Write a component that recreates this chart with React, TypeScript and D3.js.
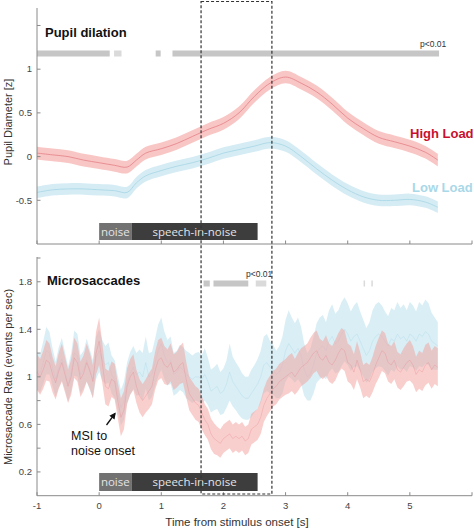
import React from "react";
import * as d3 from "d3";

// ---------- DATA ----------
const pupilTime = [-1, -0.75, -0.5, -0.25, 0, 0.25, 0.45, 0.6, 0.75, 1, 1.25, 1.5, 1.75, 2, 2.25, 2.5, 2.75, 3, 3.25, 3.5, 3.75, 4, 4.25, 4.5, 4.75, 5, 5.25, 5.45];
const pupilHigh = [0.04, 0.02, 0.0, -0.04, -0.07, -0.1, -0.12, -0.04, 0.04, 0.09, 0.15, 0.23, 0.31, 0.38, 0.5, 0.69, 0.84, 0.91, 0.84, 0.74, 0.6, 0.44, 0.32, 0.22, 0.17, 0.12, 0.05, -0.04];
const pupilLow = [-0.41, -0.38, -0.37, -0.37, -0.38, -0.39, -0.41, -0.3, -0.22, -0.16, -0.11, -0.07, -0.02, 0.04, 0.08, 0.12, 0.16, 0.12, 0.0, -0.14, -0.27, -0.38, -0.46, -0.5, -0.5, -0.49, -0.52, -0.58];
const pupilSemHigh = 0.072;
const pupilSemLow = 0.066;

const msStart = -1;
const msStep = 0.05;
const msHigh = [
  1.04, 1.0, 1.06, 1.14, 1.12, 1.02, 0.95, 1.05, 1.12, 1.02,
  0.92, 1.0, 1.16, 1.12, 0.98, 1.03, 1.12, 1.05, 0.96, 1.2,
  1.3, 1.12, 0.92, 0.9, 0.98, 0.96, 0.8, 0.66, 0.72, 0.92,
  1.0, 1.04, 0.92, 0.84, 0.8, 0.84, 0.88, 0.92, 1.05, 1.14,
  1.16, 1.1, 1.08, 1.12, 1.04, 1.06, 1.1, 1.12, 0.98, 0.86,
  0.82, 0.78, 0.76, 0.7, 0.64, 0.6, 0.52, 0.48, 0.46, 0.44,
  0.48, 0.5, 0.52, 0.48, 0.5, 0.48, 0.5, 0.46, 0.48, 0.56,
  0.58, 0.6, 0.66, 0.76, 0.82, 0.86, 0.9, 0.92, 0.96, 0.98,
  1.0, 1.02, 1.04, 1.0, 1.04, 1.08, 1.1, 1.12, 1.16, 1.2,
  1.22, 1.16, 1.14, 1.18, 1.12, 1.1, 1.14, 1.2, 1.24, 1.22,
  1.12, 1.1, 1.04, 1.14, 1.06, 0.96, 0.98, 0.96, 1.02, 1.1,
  1.16, 1.22, 1.2, 1.12, 1.1, 1.14, 1.06, 1.04, 1.08, 1.12,
  1.14, 1.1, 1.02, 1.06, 1.04, 1.1, 1.12, 1.06, 1.1, 1.08,
];
const msLow = [
  1.05, 1.03, 1.12, 1.22, 1.2, 1.08, 0.98, 1.08, 1.15, 1.05,
  0.94, 1.04, 1.2, 1.18, 1.02, 1.06, 1.14, 1.06, 0.98, 1.16,
  1.22, 1.14, 1.1, 1.12, 1.02, 0.98, 0.86, 0.74, 0.8, 0.95,
  1.03, 1.08, 1.02, 1.04, 1.0, 1.12, 1.0, 1.02, 1.12, 1.22,
  1.28, 1.18, 1.12, 1.14, 1.02, 1.04, 1.08, 1.06, 1.02, 1.0,
  0.98, 1.0, 1.0, 0.98, 1.02, 0.96, 0.88, 0.9, 0.92, 0.86,
  0.88, 0.94, 1.04, 0.96, 0.92, 0.88, 0.84, 0.82, 0.82, 0.86,
  0.9, 0.94, 1.0, 1.1, 1.12, 1.08, 1.06, 1.02, 1.04, 1.1,
  1.22, 1.28, 1.24, 1.2, 1.24, 1.18, 1.06, 1.0, 1.02, 1.1,
  1.2, 1.24, 1.26, 1.22, 1.3, 1.34, 1.28, 1.3, 1.36, 1.4,
  1.36, 1.3, 1.34, 1.36, 1.3, 1.24, 1.18, 1.22, 1.3, 1.34,
  1.36, 1.34, 1.3, 1.26, 1.32, 1.3, 1.36, 1.32, 1.34, 1.3,
  1.36, 1.34, 1.3, 1.36, 1.34, 1.38, 1.36, 1.3, 1.28, 1.26,
];
const msSemHigh = [
  0.15, 0.15, 0.16, 0.17, 0.16, 0.15, 0.14, 0.15, 0.16, 0.15,
  0.14, 0.15, 0.17, 0.16, 0.15, 0.15, 0.16, 0.15, 0.14, 0.18,
  0.2, 0.17, 0.15, 0.15, 0.15, 0.15, 0.15, 0.16, 0.16, 0.15,
  0.15, 0.15, 0.14, 0.14, 0.14, 0.14, 0.15, 0.15, 0.16, 0.17,
  0.17, 0.16, 0.15, 0.16, 0.15, 0.15, 0.16, 0.17, 0.15, 0.14,
  0.14, 0.14, 0.14, 0.14, 0.13, 0.13, 0.13, 0.13, 0.12, 0.12,
  0.12, 0.12, 0.12, 0.12, 0.12, 0.12, 0.12, 0.12, 0.12, 0.13,
  0.13, 0.13, 0.14, 0.14, 0.15, 0.15, 0.15, 0.15, 0.15, 0.15,
  0.15, 0.16, 0.16, 0.15, 0.16, 0.16, 0.16, 0.16, 0.17, 0.17,
  0.17, 0.16, 0.16, 0.17, 0.16, 0.16, 0.17, 0.17, 0.17, 0.17,
  0.16, 0.16, 0.15, 0.16, 0.15, 0.14, 0.14, 0.14, 0.15, 0.16,
  0.17, 0.17, 0.17, 0.16, 0.16, 0.16, 0.15, 0.15, 0.16, 0.16,
  0.17, 0.16, 0.15, 0.16, 0.16, 0.17, 0.17, 0.16, 0.16, 0.16,
];
const msSemLow = [
  0.16, 0.16, 0.18, 0.2, 0.18, 0.16, 0.15, 0.17, 0.18, 0.16,
  0.15, 0.16, 0.19, 0.18, 0.16, 0.16, 0.18, 0.17, 0.16, 0.18,
  0.18, 0.17, 0.16, 0.17, 0.16, 0.16, 0.15, 0.15, 0.16, 0.17,
  0.18, 0.18, 0.18, 0.19, 0.2, 0.22, 0.2, 0.19, 0.2, 0.22,
  0.22, 0.2, 0.19, 0.2, 0.18, 0.18, 0.19, 0.19, 0.2, 0.2,
  0.2, 0.2, 0.21, 0.2, 0.22, 0.2, 0.18, 0.18, 0.19, 0.18,
  0.19, 0.2, 0.24, 0.21, 0.2, 0.2, 0.19, 0.18, 0.18, 0.2,
  0.2, 0.21, 0.22, 0.24, 0.24, 0.22, 0.21, 0.2, 0.22, 0.24,
  0.26, 0.28, 0.26, 0.25, 0.26, 0.24, 0.22, 0.2, 0.22, 0.24,
  0.25, 0.26, 0.26, 0.24, 0.26, 0.27, 0.25, 0.26, 0.27, 0.27,
  0.26, 0.25, 0.26, 0.27, 0.25, 0.24, 0.23, 0.24, 0.26, 0.27,
  0.27, 0.26, 0.25, 0.25, 0.26, 0.26, 0.27, 0.26, 0.27, 0.26,
  0.27, 0.26, 0.25, 0.27, 0.26, 0.27, 0.26, 0.24, 0.22, 0.2,
];

// significance segments [start, end, light?]
const sigPupil: [number, number, boolean][] = [[-1, 0.17, false], [0.24, 0.36, true], [0.91, 0.99, false], [1.18, 5.47, false]];
const sigMs: [number, number, boolean][] = [[1.68, 1.78, false], [1.84, 2.4, false], [2.52, 2.69, true], [4.255, 4.275, true], [4.38, 4.4, true]];

const stimulus = [
  { label: "noise", start: 0, end: 0.52, color: "#727272" },
  { label: "speech-in-noise", start: 0.52, end: 2.55, color: "#3d3d3d" },
];
const windowRange = [1.64, 2.78];

const xTicks = [-1, 0, 1, 2, 3, 4, 5, 6];
const xTickLabels = ["-1", "0", "1", "2", "3", "4", "5", ""];
const pupilTicks = [-0.5, 0, 0.5, 1, 1.5];
const pupilTickLabels = ["-0.5", "0", "0.5", "1", ""];
const msTicks = [0.2, 0.4, 0.6, 0.8, 1, 1.2, 1.4, 1.6, 1.8, 2.0];
const msTickLabels = ["0.2", "", "0.6", "", "1", "", "1.4", "", "1.8", ""];

// ---------- COLOURS ----------
const RED_FILL = "#f3a09c";
const RED_LINE = "#e48088";
const BLUE_FILL = "#b9e0ec";
const BLUE_LINE = "#a6d5e4";
const AXIS = "#8a8a8a";
const FONT = "'Liberation Sans', Arial, sans-serif";

export default function App() {
  const W = 474, H = 530;
  const x = d3.scaleLinear().domain([-1, 6]).range([37, 472]);
  const yTop = d3.scaleLinear().domain([-1, 1.7]).range([244, 8]);
  const yBot = d3.scaleLinear().domain([0, 2.0]).range([495.7, 258]);

  const msTime = msHigh.map((_, i) => msStart + i * msStep);

  const pupilArea = (vals: number[], sem: number) =>
    d3.area<number>()
      .x((_, i) => x(pupilTime[i]))
      .y0((d) => yTop(d - sem))
      .y1((d) => yTop(d + sem))
      .curve(d3.curveCatmullRom)(vals) || "";
  const pupilLine = (vals: number[]) =>
    d3.line<number>().x((_, i) => x(pupilTime[i])).y((d) => yTop(d)).curve(d3.curveCatmullRom)(vals) || "";

  const msArea = (vals: number[], sem: number[]) =>
    d3.area<number>()
      .x((_, i) => x(msTime[i]))
      .y0((d, i) => yBot(d - sem[i]))
      .y1((d, i) => yBot(d + sem[i]))
      .curve(d3.curveLinear)(vals) || "";
  const msLine = (vals: number[]) =>
    d3.line<number>().x((_, i) => x(msTime[i])).y((d) => yBot(d)).curve(d3.curveLinear)(vals) || "";

  const axisX = (y0: number, labels: boolean) => (
    <g>
      <line x1={37} x2={472} y1={y0} y2={y0} stroke={AXIS} strokeWidth={1} />
      {xTicks.map((t, i) => (
        <g key={t}>
          <line x1={x(t)} x2={x(t)} y1={y0} y2={y0 - 3.5} stroke={AXIS} />
          {labels && (
            <text x={x(t)} y={y0 + 13} textAnchor="middle" fontSize={9.5} fill="#444" fontFamily={FONT}>{xTickLabels[i]}</text>
          )}
        </g>
      ))}
    </g>
  );

  const axisY = (scale: d3.ScaleLinear<number, number>, ticks: number[], labels: string[], top: number, bottom: number) => (
    <g>
      <line x1={37} x2={37} y1={top} y2={bottom} stroke={AXIS} />
      {ticks.map((t, i) => (
        <g key={t}>
          <line x1={37} x2={40.5} y1={scale(t)} y2={scale(t)} stroke={AXIS} />
          <text x={32} y={scale(t) + 3.3} textAnchor="end" fontSize={9.5} fill="#444" fontFamily={FONT}>{labels[i]}</text>
        </g>
      ))}
    </g>
  );

  const stimBar = (yTopPx: number, h: number) => (
    <g>
      {stimulus.map((s) => (
        <g key={s.label}>
          <rect x={x(s.start)} y={yTopPx} width={x(s.end) - x(s.start)} height={h} fill={s.color} />
          <text x={(x(s.start) + x(s.end)) / 2} y={yTopPx + h / 2 + 4} textAnchor="middle" fontSize={11.5} fill="#e4e4e4" fontFamily="'Open Sans', sans-serif">{s.label}</text>
        </g>
      ))}
    </g>
  );

  const sigBars = (segs: [number, number, boolean][], y0: number, h: number) =>
    segs.map(([a, b, light], i) => (
      <rect key={i} x={x(a)} y={y0} width={Math.max(1.5, x(b) - x(a))} height={h} fill={light ? "#dadada" : "#c6c6c6"} />
    ));

  return (
    <svg width={W} height={H} style={{ position: "absolute", left: 0, top: 0, background: "#fff" }} fontFamily={FONT}>
      {/* ---------- TOP PANEL ---------- */}
      {sigBars(sigPupil, 50.5, 6)}
      <text x={420} y={47} fontSize={8.5} fill="#333" fontFamily={FONT}>p&lt;0.01</text>
      <text x={45} y={37} fontSize={13} fontWeight="bold" fill="#111">Pupil dilation</text>

      <path d={pupilArea(pupilLow, pupilSemLow)} fill={BLUE_FILL} opacity={0.6} />
      <path d={pupilLine(pupilLow)} fill="none" stroke={BLUE_LINE} strokeWidth={0.8} />
      <path d={pupilArea(pupilHigh, pupilSemHigh)} fill={RED_FILL} opacity={0.6} />
      <path d={pupilLine(pupilHigh)} fill="none" stroke={RED_LINE} strokeWidth={0.8} />

      <text x={410} y={138} fontSize={13} fontWeight="bold" fill="#c8102e">High Load</text>
      <text x={412} y={192} fontSize={13} fontWeight="bold" fill="#a9d8e8">Low Load</text>

      {stimBar(223, 17)}
      {axisY(yTop, pupilTicks, pupilTickLabels, 8, 244)}
      {axisX(244, false)}
      <text transform="translate(12,122) rotate(-90)" textAnchor="middle" fontSize={11} fill="#333">Pupil Diameter [z]</text>

      {/* ---------- BOTTOM PANEL ---------- */}
      {sigBars(sigMs, 280.5, 6)}
      <text x={246} y={277} fontSize={8.5} fill="#333">p&lt;0.01</text>
      <text x={47} y={285} fontSize={13} fontWeight="bold" fill="#111">Microsaccades</text>

      <path d={msArea(msLow, msSemLow)} fill={BLUE_FILL} opacity={0.55} />
      <path d={msLine(msLow)} fill="none" stroke={BLUE_LINE} strokeWidth={0.5} opacity={0.6} />
      <path d={msArea(msHigh, msSemHigh)} fill={RED_FILL} opacity={0.5} />
      <path d={msLine(msHigh)} fill="none" stroke={RED_LINE} strokeWidth={0.5} opacity={0.6} />

      {/* annotation */}
      <defs>
        <marker id="arrowHead" viewBox="0 0 10 10" refX="8" refY="5" markerWidth="5" markerHeight="5" orient="auto">
          <path d="M0,0 L10,5 L0,10 z" fill="#111" />
        </marker>
      </defs>
      <line x1={106.5} y1={425} x2={115} y2={413.5} stroke="#111" strokeWidth={1.3} markerEnd="url(#arrowHead)" />
      <text x={71} y={440} fontSize={12.5} fill="#111">MSI to</text>
      <text x={71} y={455} fontSize={12.5} fill="#111">noise onset</text>

      {stimBar(473, 18)}
      {axisY(yBot, msTicks, msTickLabels, 257, 495.7)}
      {axisX(495.7, true)}
      <text transform="translate(12,377) rotate(-90)" textAnchor="middle" fontSize={11} fill="#333">Microsaccade Rate (events per sec)</text>
      <text x={237} y={526} textAnchor="middle" fontSize={11.5} fill="#333">Time from stimulus onset [s]</text>

      {/* analysis window */}
      <rect x={x(windowRange[0])} y={1.5} width={x(windowRange[1]) - x(windowRange[0])} height={492.5} fill="none" stroke="#333" strokeWidth={1.2} strokeDasharray="3,2" />
    </svg>
  );
}
